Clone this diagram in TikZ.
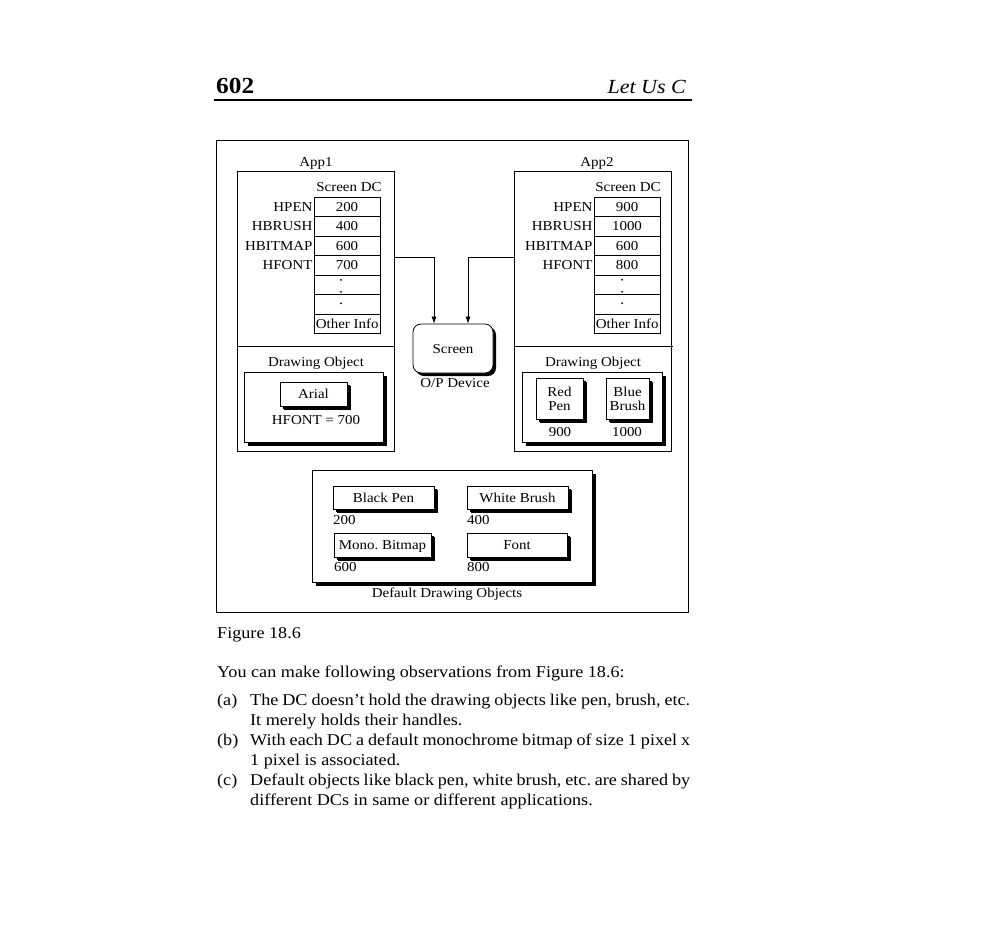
\documentclass[tikz,border=0pt]{standalone}
\usepackage{fontspec}
\setmainfont{Liberation Serif}[FakeStretch=1.1]
\usetikzlibrary{shadows,arrows.meta}
\newcommand\dgmfont{\fontsize{13.6}{15}\selectfont}
\newcommand\bodyfont{\fontsize{16.5}{20}\selectfont}
\frenchspacing
\begin{document}
\begin{tikzpicture}[x=1pt,y=-1pt,
  every node/.style={inner sep=0pt, font=\dgmfont},
  frame/.style={draw, line width=0.8pt, rectangle},
  cell/.style={draw, line width=0.7pt, rectangle, minimum width=66pt, minimum height=19.5pt, text height=9pt, text depth=0pt},
  lab/.style={anchor=east, minimum height=19.5pt, text height=9pt, text depth=0pt},
  sbox/.style={draw, line width=0.8pt, rectangle, fill=white, drop shadow={opacity=1, fill=black, shadow xshift=4pt, shadow yshift=-4pt}},
  sboxs/.style={sbox, drop shadow={opacity=1, fill=black, shadow xshift=3pt, shadow yshift=-3pt}},
  arr/.style={draw, line width=0.7pt, -{Latex[length=7pt,width=5pt]}},
  body/.style={font=\bodyfont, anchor=base west}
]
\useasboundingbox (0,0) rectangle (1000,938);

% header
\node[anchor=base west, font=\fontsize{23}{23}\selectfont\bfseries] (pg) at (216,93) {602};
\node[anchor=base east, font=\fontsize{20}{20}\selectfont\itshape] (ttl) at (686,93) {Let Us C};
\draw[line width=1.1pt] (214,100) -- (692,100);

% outer frame
\node[frame, minimum width=472pt, minimum height=472pt] (outer) at (452,376) {};

% ---------- App1 ----------
\node[anchor=base] (t1) at (316,166) {App1};
\node[frame, minimum width=157pt, minimum height=280pt] (app1) at (315.5,311) {};
\node[anchor=base] (sdc1) at (349,191) {Screen DC};
\foreach \v [count=\i] in {200,400,600,700,{},{},{}} {
  \node[cell] (aA\i) at (347,{197+19.5*(\i-0.5)}) {\v};
}
\node[anchor=west, minimum height=19.5pt, text height=9pt, text depth=0pt] (aO) at ([xshift=2pt]aA7.west) {Other Info};
\foreach \l [count=\i] in {HPEN,HBRUSH,HBITMAP,HFONT} {
  \node[lab] (aL\i) at ([xshift=-1pt]aA\i.west) {\l};
}
\fill ([xshift=-6pt,yshift=5pt]aA5.center) circle (1pt);
\fill ([xshift=-6pt,yshift=-7pt]aA5.center) circle (1pt);
\fill ([xshift=-6pt,yshift=1pt]aA6.center) circle (1pt);
\coordinate (dv) at (0,346);
\draw[line width=0.8pt] (app1.west |- dv) -- (app1.east |- dv);
\node[anchor=base] (do1) at (316,366) {Drawing Object};
\node[sbox, minimum width=139pt, minimum height=70pt] (dob1) at (313.5,407) {};
\node[sboxs, minimum width=67pt, minimum height=24pt, text height=9pt, text depth=0pt] (arial) at (313.5,394) {Arial};
\node[anchor=base] (hf) at (316,424) {HFONT = 700};

% ---------- App2 ----------
\node[anchor=base] (t2) at (597,166) {App2};
\node[frame, minimum width=157pt, minimum height=280pt] (app2) at (592.5,311) {};
\node[anchor=base] (sdc2) at (628,191) {Screen DC};
\foreach \v [count=\i] in {900,1000,600,800,{},{},{}} {
  \node[cell] (bA\i) at (627,{197+19.5*(\i-0.5)}) {\v};
}
\node[anchor=west, minimum height=19.5pt, text height=9pt, text depth=0pt] (bO) at ([xshift=2pt]bA7.west) {Other Info};
\foreach \l [count=\i] in {HPEN,HBRUSH,HBITMAP,HFONT} {
  \node[lab] (bL\i) at ([xshift=-1pt]bA\i.west) {\l};
}
\fill ([xshift=-5pt,yshift=5pt]bA5.center) circle (1pt);
\fill ([xshift=-5pt,yshift=-7pt]bA5.center) circle (1pt);
\fill ([xshift=-5pt,yshift=1pt]bA6.center) circle (1pt);
\draw[line width=0.8pt] (app2.west |- dv) -- ([xshift=2pt]app2.east |- dv);
\node[anchor=base] (do2) at (593,366) {Drawing Object};
\node[sbox, minimum width=140pt, minimum height=70pt] (dob2) at (592,407) {};
\node[sboxs, minimum width=47pt, minimum height=41pt, align=center, font=\fontsize{13.6}{14}\selectfont] (redpen) at (559.5,398.5) {Red\\Pen};
\node[sboxs, minimum width=43pt, minimum height=41pt, align=center, font=\fontsize{13.6}{14}\selectfont] (bluebr) at (627.5,398.5) {Blue\\Brush};
\node[anchor=base] (n900) at (560,436) {900};
\node[anchor=base] (n1000) at (627,436) {1000};

% ---------- Screen ----------
\node[draw, line width=0.8pt, rounded corners=8pt, fill=white, minimum width=80pt, minimum height=49pt, text height=9pt, text depth=0pt,
      drop shadow={opacity=1, fill=black, shadow xshift=3pt, shadow yshift=-3pt}] (scr) at (453,348.5) {Screen};
\node[anchor=base] (opd) at (455,387) {O/P Device};
\coordinate (hy) at (0,257);
\draw[arr] (app1.east |- hy) -| ([xshift=-19pt]scr.north);
\draw[arr] (app2.west |- hy) -| ([xshift=15pt]scr.north);

% ---------- Default objects ----------
\node[sbox, minimum width=280pt, minimum height=112pt] (defb) at (452,526) {};
\node[sboxs, minimum width=101pt, minimum height=23pt, text height=9pt, text depth=0pt] (bpen) at (383.5,497.5) {Black Pen};
\node[sboxs, minimum width=101pt, minimum height=23pt, text height=9pt, text depth=0pt] (wbr) at (517.5,497.5) {White Brush};
\node[sboxs, minimum width=97pt, minimum height=24pt, text height=9pt, text depth=0pt] (mono) at (382.5,545) {Mono. Bitmap};
\node[sboxs, minimum width=100pt, minimum height=24pt, text height=9pt, text depth=0pt] (fnt) at (517,545) {Font};
\node[anchor=base west] (d200) at (333,524) {200};
\node[anchor=base west] (d400) at (467,524) {400};
\node[anchor=base west] (d600) at (334,571) {600};
\node[anchor=base west] (d800) at (467,571) {800};
\node[anchor=base] (ddo) at (447,597) {Default Drawing Objects};

% ---------- Text below ----------
\node[body] (fig) at (217,638) {Figure 18.6};
\node[body] (obs) at (217,677) {You can make following observations from Figure 18.6:};
\node[body] (la) at (217,705) {(a)};
\node[body] (la1) at (250,705) {\makebox[440pt][s]{The DC doesn't hold the drawing objects like pen, brush, etc.}};
\node[body] (la2) at (250,725) {It merely holds their handles.};
\node[body] (lb) at (217,745) {(b)};
\node[body] (lb1) at (250,745) {\makebox[440pt][s]{With each DC a default monochrome bitmap of size 1 pixel x}};
\node[body] (lb2) at (250,765) {1 pixel is associated.};
\node[body] (lc) at (217,785) {(c)};
\node[body] (lc1) at (250,785) {\makebox[440pt][s]{Default objects like black pen, white brush, etc. are shared by}};
\node[body] (lc2) at (250,805) {different DCs in same or different applications.};
\end{tikzpicture}
\end{document}
